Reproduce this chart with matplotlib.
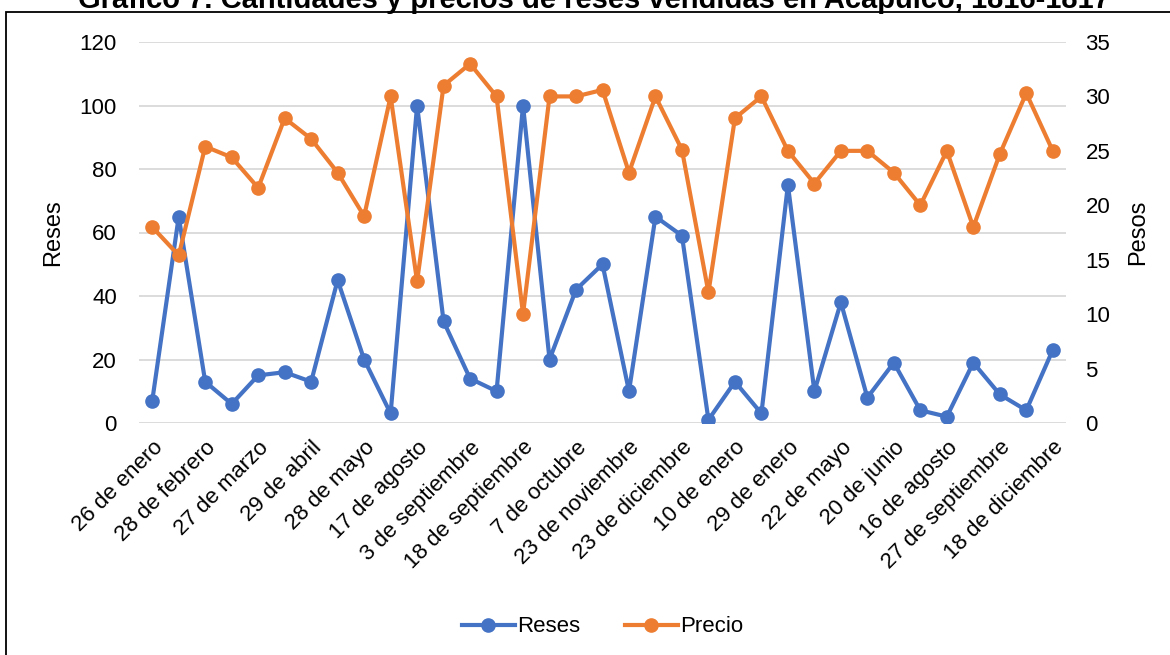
import numpy as np
import matplotlib.pyplot as plt
from matplotlib.patches import Rectangle

plt.rcParams['font.family'] = ['Liberation Sans', 'DejaVu Sans']

#Datos
fechas = ['26 de enero', '28 de febrero', '27 de marzo', '29 de abril', '28 de mayo',
          '17 de agosto', '3 de septiembre', '18 de septiembre', '7 de octubre',
          '23 de noviembre', '23 de diciembre', '10 de enero', '29 de enero',
          '22 de mayo', '20 de junio', '16 de agosto', '27 de septiembre', '18 de diciembre']
reses = [7, 65, 13, 6, 15, 16, 13, 45, 20, 3, 100, 32, 14, 10, 100, 20, 42, 50,
         10, 65, 59, 1, 13, 3, 75, 10, 38, 8, 19, 4, 2, 19, 9, 4, 23]
precio = [18, 15.4, 25.4, 24.4, 21.6, 28, 26.1, 23, 19, 30, 13, 31, 33, 30, 10, 30, 30, 30.6,
          23, 30, 25.1, 12, 28, 30, 25, 22, 25, 25, 23, 20, 25, 18, 24.7, 30.3, 25]

azul = '#4472C4'
naranja = '#ED7D31'
x = np.arange(len(reses))

fig = plt.figure(figsize=(11.7, 6.55), dpi=100)
ax = fig.add_axes([139/1170, 1-423/655, 927/1170, 381/655])
ax2 = ax.twinx()

l1, = ax.plot(x, reses, color=azul, lw=3, marker='o', ms=9.5, label='Reses')
l2, = ax2.plot(x, precio, color=naranja, lw=3, marker='o', ms=9.5, label='Precio')

ax.set_xlim(-0.5, len(reses) - 0.5)
ax.set_ylim(0, 120)
ax.set_yticks(range(0, 121, 20))
ax2.set_ylim(0, 35)
ax2.set_yticks(range(0, 36, 5))
ax.grid(axis='y', color='#D9D9D9', lw=1.3)
ax.set_axisbelow(True)

ax.set_xticks(x[::2])
ax.set_xticklabels(fechas, rotation=45, ha='right', rotation_mode='anchor')
for a in (ax, ax2):
    for s in a.spines.values():
        s.set_visible(False)
    a.tick_params(length=0, labelsize=16)
ax.tick_params(axis='y', pad=16)
ax.tick_params(axis='x', pad=10)
ax2.tick_params(axis='y', pad=14)

ax.set_ylabel('Reses', fontsize=17)
ax.yaxis.set_label_coords(-0.081, 0.5)
ax2.set_ylabel('Pesos', fontsize=17)
ax2.yaxis.set_label_coords(1.066, 0.5)

#titulo (recortado arriba como en el original)
fig.text(0.508, 1-8/655, 'Gráfico 7. Cantidades y precios de reses vendidas en Acapulco, 1816-1817',
         ha='center', va='baseline', fontsize=21, fontweight='bold')

fig.legend([l1, l2], ['Reses', 'Precio'], loc='center', bbox_to_anchor=(0.515, 1-627/655),
           ncol=2, frameon=False, fontsize=16, handlelength=2.4, handletextpad=0.1,
           columnspacing=2.0)

fig.patches.append(Rectangle((6/1170, -0.1), 1.2, 1 - 12/655 + 0.1, transform=fig.transFigure,
                             fill=False, edgecolor='black', lw=1.3, clip_on=False))

plt.savefig('out.png', dpi=100)
